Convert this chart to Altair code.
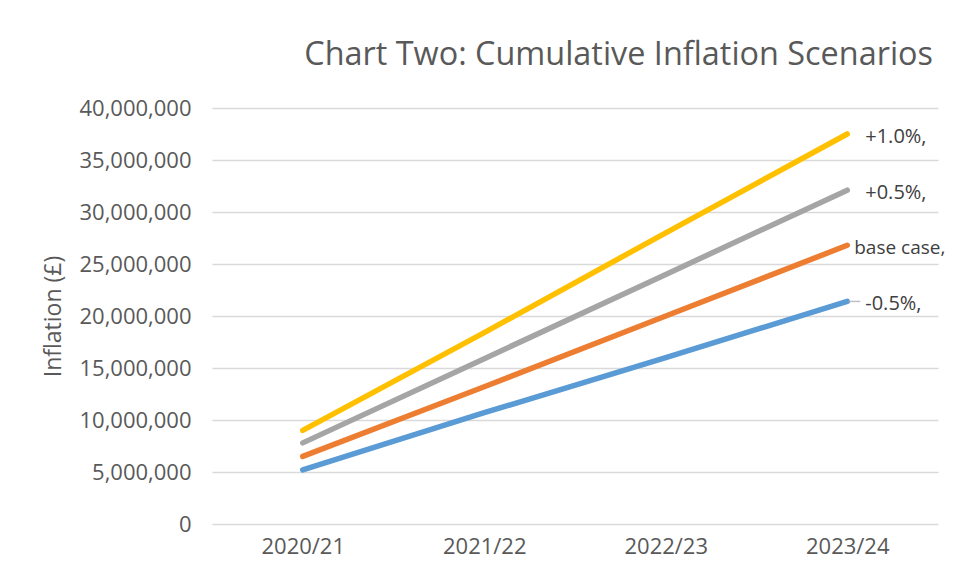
import altair as alt
import pandas as pd

years = ["2020/21", "2021/22", "2022/23", "2023/24"]
series_names = ["-0.5%", "base case", "+0.5%", "+1.0%"]
labels = ["-0.5%,", "base case,", "+0.5%,", "+1.0%,"]
minus_half = [5200000, 10700000, 16000000, 21400000]
base_case = [6500000, 13200000, 20000000, 26800000]
plus_half = [7800000, 15900000, 24000000, 32100000]
plus_one = [9000000, 18400000, 28000000, 37500000]
colors = ["#5B9BD5", "#ED7D31", "#A5A5A5", "#FFC000"]

values = [minus_half, base_case, plus_half, plus_one]
rows = []
for name, vals in zip(series_names, values):
    for y, v in zip(years, vals):
        rows.append({"year": y, "series": name, "value": v})
df = pd.DataFrame(rows)

lab = pd.DataFrame({
    "series": series_names,
    "label": labels,
    "year": [years[-1]] * 4,
    "value": [v[-1] for v in values],
})

FONT = "Open Sans"
GREY = "#595959"

x = alt.X("year:N", sort=years, title=None,
          scale=alt.Scale(type="point", padding=0.5),
          axis=alt.Axis(labelAngle=0, domain=False, ticks=False, grid=False,
                        labelFontSize=22, labelFont=FONT, labelColor=GREY,
                        labelPadding=12))
y = alt.Y("value:Q", title="Inflation (£)",
          scale=alt.Scale(domain=[0, 40000000]),
          axis=alt.Axis(values=list(range(0, 40000001, 5000000)), format=",d",
                        domain=False, ticks=False, grid=True,
                        gridColor="#D9D9D9", gridWidth=1.3,
                        labelFontSize=22, labelFont=FONT, labelColor=GREY,
                        labelPadding=21, titleFontSize=23, titleFont=FONT,
                        titleColor=GREY, titleFontWeight="normal",
                        titlePadding=13))
color = alt.Color("series:N", sort=series_names,
                  scale=alt.Scale(domain=series_names, range=colors), legend=None)

lines = alt.Chart(df).mark_line(strokeWidth=5.5, strokeCap="round").encode(
    x=x, y=y, color=color, detail="series:N", order=alt.Order("year:N"))

text_base = alt.Chart(lab).encode(
    x=alt.X("year:N", sort=years), y=alt.Y("value:Q"), text="label:N")

t_others = text_base.transform_filter(alt.datum.series != "base case").mark_text(
    align="left", baseline="middle", dx=18, dy=3, fontSize=20, font=FONT, color="#404040")
t_base = text_base.transform_filter(alt.datum.series == "base case").mark_text(
    align="left", baseline="middle", dx=7, dy=3, fontSize=19, font=FONT, color="#404040")

leader = alt.Chart(lab).transform_filter(alt.datum.series == "-0.5%").mark_tick(
    orient="horizontal", size=12, thickness=1.5, xOffset=7, color="#A5A5A5").encode(
    x=alt.X("year:N", sort=years), y=alt.Y("value:Q"))

chart = alt.layer(lines, leader, t_others, t_base).properties(
    width=726, height=416,
    title=alt.TitleParams("Chart Two: Cumulative Inflation Scenarios",
                          anchor="end", frame="group", fontSize=32.4, font=FONT,
                          color=GREY, fontWeight="normal", dx=-5, offset=26),
    autosize=alt.AutoSizeParams(type="none"),
    padding={"left": 204, "top": 100, "right": 11, "bottom": 48},
).configure(background="white").configure_view(stroke=None)

chart.save("out.html", embed_options={"renderer": "svg", "actions": False})
